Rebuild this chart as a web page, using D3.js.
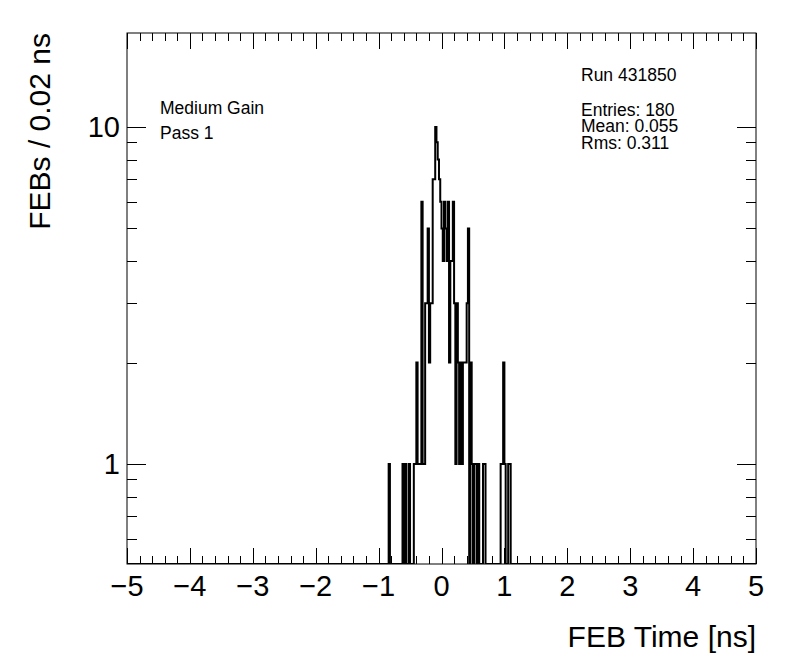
<!DOCTYPE html>
<html>
<head>
<meta charset="utf-8">
<script src="https://cdn.jsdelivr.net/npm/d3@7"></script>
<style>
  html, body { margin: 0; padding: 0; background: #fff; }
  svg text { font-family: "Liberation Sans", Arial, Helvetica, sans-serif; fill: #000; }
</style>
</head>
<body>
<div id="chart"></div>
<script>
// Histogram: FEB time, 0.02 ns bins from -5 to 5 ns (only non-empty bins listed).
const binLow = -5;
const binHigh = 5;
const binWidth = 0.02;
// bin offset relative to t = 0 (bin j covers [0.02*j, 0.02*(j+1)])
const filledBins = [
  -42, -31, -29, -26, -22, -21, -20, -19, -18, -17, -16, -15, -14, -13, -12,
  -11, -10, -9, -8, -7, -6, -5, -4, -3, -2, -1, 0, 1, 2, 3, 4, 5, 6, 7, 8, 9,
  10, 11, 12, 13, 14, 15, 16, 17, 18, 19, 20, 21, 23, 24, 26, 27, 29, 33, 34,
  47, 48, 49, 50, 53, 54,
];
const binCounts = [
  1, 1, 1, 1, 1, 1, 2, 1, 1, 1, 6, 1, 1, 3, 3,
  5, 2, 3, 3, 7, 7, 10, 9, 8, 7, 6, 5, 4, 6, 5, 4, 6, 2, 4, 4, 6,
  3, 1, 3, 2, 1, 2, 1, 2, 2, 2, 3, 5, 2, 1, 1, 1, 1, 1, 1,
  1, 1, 2, 1, 1, 1,
];

const xMajorTicks = [-5, -4, -3, -2, -1, 0, 1, 2, 3, 4, 5];
const yLabelTicks = [1, 10];
const padLabels = ["Medium Gain", "Pass 1"];
const statLabels = ["Entries: 180", "Mean: 0.055", "Rms: 0.311"];
const runLabel = "Run 431850";

const width = 796;
const height = 672;
const frame = { left: 127, right: 756, top: 33, bottom: 564 };

const svg = d3
  .select("#chart")
  .append("svg")
  .attr("width", width)
  .attr("height", height);

const x = d3.scaleLinear().domain([binLow, binHigh]).range([frame.left, frame.right]);
const y = d3.scaleLog().domain([0.505, 19.0]).range([frame.bottom, frame.top]);

// Full list of bins, empty ones are 0.
const nBins = Math.round((binHigh - binLow) / binWidth);
const counts = new Array(nBins).fill(0);
filledBins.forEach((j, i) => {
  counts[j + nBins / 2] = binCounts[i];
});

// Step outline like ROOT draws it; empty bins drop to the frame bottom on log scale.
const path = d3.path();
path.moveTo(x(binLow), frame.bottom);
counts.forEach((c, i) => {
  const x0 = x(binLow + i * binWidth);
  const x1 = x(binLow + (i + 1) * binWidth);
  const yy = c > 0 ? y(c) : frame.bottom;
  path.lineTo(x0, yy);
  path.lineTo(x1, yy);
});
path.lineTo(x(binHigh), frame.bottom);

svg
  .append("clipPath")
  .attr("id", "frame-clip")
  .append("rect")
  .attr("x", frame.left)
  .attr("y", frame.top)
  .attr("width", frame.right - frame.left)
  .attr("height", frame.bottom - frame.top);

svg
  .append("path")
  .attr("d", path.toString())
  .attr("clip-path", "url(#frame-clip)")
  .attr("fill", "none")
  .attr("stroke", "#000")
  .attr("stroke-width", 2)
  .attr("stroke-linejoin", "miter");

// Frame
svg
  .append("rect")
  .attr("x", frame.left)
  .attr("y", frame.top)
  .attr("width", frame.right - frame.left)
  .attr("height", frame.bottom - frame.top)
  .attr("fill", "none")
  .attr("stroke", "#000")
  .attr("stroke-width", 1);

// X ticks, bottom and top, pointing inside
const xMinor = x.ticks(50);
const ticks = svg.append("g").attr("stroke", "#000").attr("stroke-width", 1);

xMinor.forEach((v) => {
  const major = xMajorTicks.some((m) => Math.abs(m - v) < 1e-9);
  const len = major ? 16 : 8;
  const px = Math.round(x(v)) + 0.5;
  ticks.append("line").attr("x1", px).attr("x2", px).attr("y1", frame.bottom).attr("y2", frame.bottom - len);
  ticks.append("line").attr("x1", px).attr("x2", px).attr("y1", frame.top).attr("y2", frame.top + len);
});

// Y ticks (log), left and right
y.ticks().forEach((v) => {
  const major = yLabelTicks.includes(v);
  const len = major ? 19 : 10;
  const py = Math.round(y(v)) + 0.5;
  ticks.append("line").attr("x1", frame.left).attr("x2", frame.left + len).attr("y1", py).attr("y2", py);
  ticks.append("line").attr("x1", frame.right).attr("x2", frame.right - len).attr("y1", py).attr("y2", py);
});

// Tick labels
svg
  .selectAll("text.x-label")
  .data(xMajorTicks)
  .enter()
  .append("text")
  .attr("class", "x-label")
  .attr("x", (d) => x(d))
  .attr("y", 596)
  .attr("text-anchor", "middle")
  .attr("font-size", "29px")
  .text((d) => (d < 0 ? "\u2212" + Math.abs(d) : String(d)));

svg
  .selectAll("text.y-label")
  .data(yLabelTicks)
  .enter()
  .append("text")
  .attr("class", "y-label")
  .attr("x", 120)
  .attr("y", (d) => y(d) + 10)
  .attr("text-anchor", "end")
  .attr("font-size", "29px")
  .text((d) => String(d));

// Axis titles
svg
  .append("text")
  .attr("x", frame.right)
  .attr("y", 647)
  .attr("text-anchor", "end")
  .attr("font-size", "30px")
  .text("FEB Time [ns]");

svg
  .append("text")
  .attr("transform", `translate(50, ${frame.top}) rotate(-90)`)
  .attr("text-anchor", "end")
  .attr("font-size", "30px")
  .text("FEBs / 0.02 ns");

// Pad texts
svg
  .selectAll("text.pad-label")
  .data(padLabels)
  .enter()
  .append("text")
  .attr("class", "pad-label")
  .attr("x", 160)
  .attr("y", (_, i) => 114 + i * 25)
  .attr("font-size", "17.5px")
  .text((d) => d);

svg
  .append("text")
  .attr("x", 581)
  .attr("y", 80.5)
  .attr("font-size", "17.5px")
  .text(runLabel);

svg
  .selectAll("text.stat-label")
  .data(statLabels)
  .enter()
  .append("text")
  .attr("class", "stat-label")
  .attr("x", 581)
  .attr("y", (_, i) => 115.5 + i * 16.6)
  .attr("font-size", "17.5px")
  .text((d) => d);
</script>
</body>
</html>
